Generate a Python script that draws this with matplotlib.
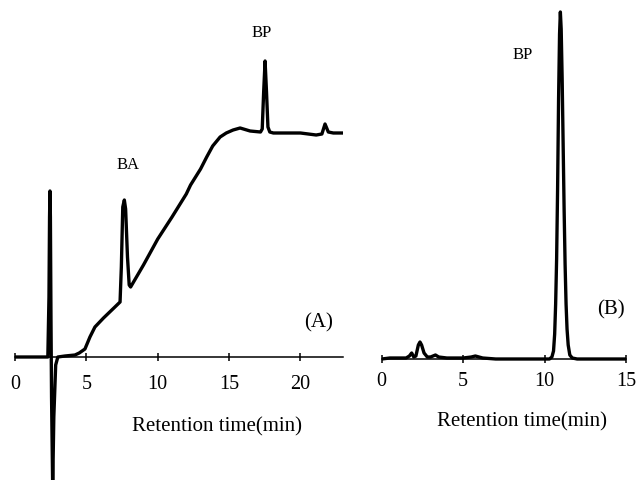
import matplotlib
matplotlib.use("Agg")
import matplotlib.pyplot as plt

plt.rcParams['font.family'] = ['Liberation Serif', 'DejaVu Serif']

# ---- Panel A data (retention time in min, detector signal in arbitrary units)
a_time = [0, 2.3, 2.38, 2.42, 2.45, 2.48, 2.52, 2.56, 2.64, 2.72, 2.85, 3.0, 3.5, 4.2, 4.5,
          4.9, 5.25, 5.6, 6.2, 7.0, 7.36, 7.45, 7.55, 7.66, 7.75, 7.88, 8.0, 8.1, 9.0,
          10.0, 11.0, 12.0, 12.3, 13.0, 13.43, 13.85, 14.37, 14.8, 15.28, 15.77, 16.47, 17.2,
          17.32, 17.42, 17.52, 17.62, 17.72, 17.85, 18.1, 20.0, 21.1, 21.5, 21.72, 21.95, 22.3, 23.0]
a_signal = [0, 0, 60, 140, 166, 140, 40, -40, -130, -60, -8, 0, 1, 2, 4,
            8, 20, 30, 39, 50, 55, 90, 150, 157, 148, 100, 72, 70, 92,
            118, 140, 163, 172, 188, 200, 211, 220, 224, 227, 229, 226, 225,
            228, 265, 296, 265, 230, 225, 224, 224, 222, 223, 233, 225, 224, 224]

# ---- Panel B data
b_time = [0, 0.5, 1.0, 1.5, 1.7, 1.84, 1.97, 2.1, 2.25, 2.35, 2.45, 2.6, 2.8, 3.0, 3.3,
          3.5, 4.0, 5.0, 5.5, 5.75, 6.2, 7.0, 9.0, 10.3, 10.45, 10.55, 10.62, 10.68,
          10.74, 10.8, 10.86, 10.92, 10.97, 11.02, 11.08, 11.14, 11.2, 11.26, 11.32,
          11.38, 11.45, 11.55, 11.7, 12.0, 15.0]
b_signal = [0, 1, 1, 1, 3, 6, 2, 3, 14, 17, 14, 6, 2, 2, 4,
            2, 1, 1, 2, 3, 1, 0, 0, 0, 2, 8, 25, 55,
            100, 170, 260, 325, 347, 330, 280, 215, 150, 95, 55,
            30, 14, 4, 1, 0, 0]

W, H = 641, 481
fig = plt.figure(figsize=(W / 100, H / 100), dpi=100)

def make_ax(x0px, x1px, base_px, xmax, ticks, pad):
    ax = fig.add_axes([x0px / W, 0, (x1px - x0px) / W, 1])
    ax.set_xlim(0, xmax)
    ax.set_ylim(base_px - H, base_px)
    for s in ['top', 'left', 'right']:
        ax.spines[s].set_visible(False)
    ax.spines['bottom'].set_position(('data', 0))
    ax.spines['bottom'].set_linewidth(1.1)
    ax.set_yticks([])
    ax.set_xticks(ticks)
    ax.tick_params(axis='x', direction='inout', length=6, width=1.1, pad=pad,
                   labelsize=14.5)
    ax.patch.set_alpha(0)
    return ax

axA = make_ax(15, 343.3, 358, 23, [0, 5, 10, 15, 20], 9.5)
axA.plot(a_time, a_signal, color='black', lw=2.4, solid_joinstyle='round')
axA.text(7.9, 358 - 165, 'BA', ha='center', va='center', fontsize=12)
axA.text(17.3, 358 - 33, 'BP', ha='center', va='center', fontsize=12)
axA.text(21.25, 358 - 323, '(A)', ha='center', va='center', fontsize=15)

axB = make_ax(381.7, 626, 360, 15, [0, 5, 10, 15], 6)
axB.plot(b_time, b_signal, color='black', lw=2.4, solid_joinstyle='round')
axB.text(8.65, 360 - 55, 'BP', ha='center', va='center', fontsize=12)
axB.text(14.1, 360 - 310, '(B)', ha='center', va='center', fontsize=15)

fig.text(217 / W, 1 - 427 / H, 'Retention time(min)', ha='center', va='center', fontsize=15)
fig.text(522 / W, 1 - 422 / H, 'Retention time(min)', ha='center', va='center', fontsize=15)

fig.savefig('out.png', dpi=100)
